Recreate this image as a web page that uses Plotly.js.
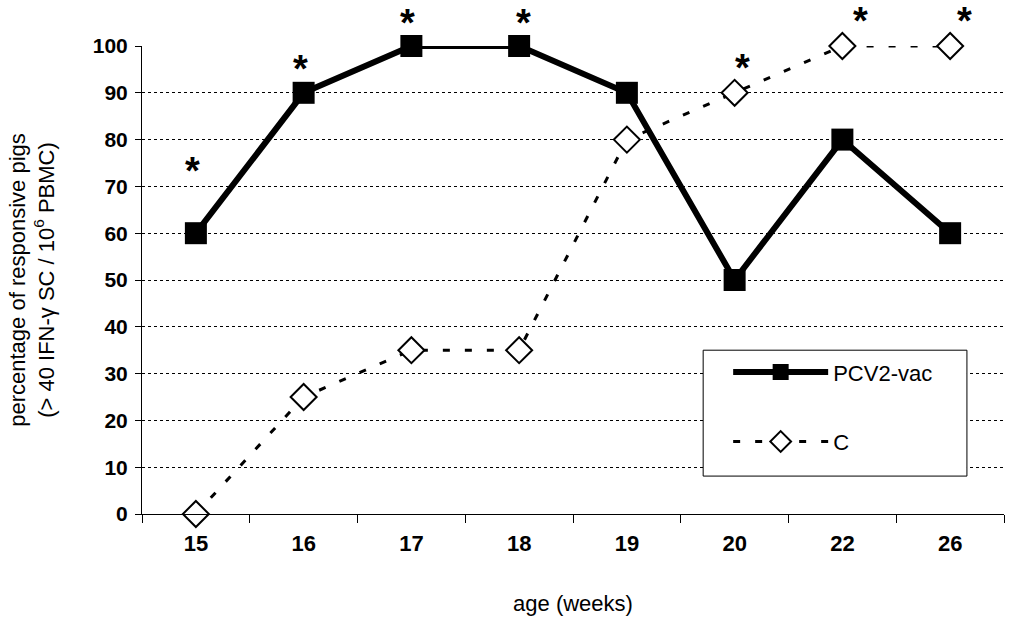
<!DOCTYPE html>
<html>
<head>
<meta charset="utf-8">
<script src="https://cdn.plot.ly/plotly-3.0.1.min.js"></script>
<style>html,body{margin:0;padding:0;background:#fff;}#chart{width:1010px;height:617px;}</style>
</head>
<body>
<div id="chart"></div>
<script>
// Data
const ages = ['15', '16', '17', '18', '19', '20', '22', '26'];
const pcv2vac = [60, 90, 100, 100, 90, 50, 80, 60];
const control = [0, 25, 35, 35, 80, 90, 100, 100];
const seriesNames = ['PCV2-vac', 'C'];
const yTicks = [0, 10, 20, 30, 40, 50, 60, 70, 80, 90, 100];
const yRange = [0, 100];
// significance asterisks: category and height (in y-axis units)
const starCats = ['15', '16', '17', '18', '20', '22', '26'];
const starVals = [74.6, 96.4, 106.2, 106.2, 96.6, 106.6, 106.6];
const starShift = [-3, -3, -4, 4, 8, 18, 14];

const FONT = 'Liberation Sans, Arial, sans-serif';

const traces = [
  {
    x: ages, y: pcv2vac, name: seriesNames[0], type: 'scatter', mode: 'lines+markers',
    legendgroup: 'a',
    line: {color: '#000', width: 6},
    marker: {symbol: 'square', size: 22, color: '#000'},
    cliponaxis: false
  },
  {
    x: ages, y: control, name: seriesNames[1], type: 'scatter', mode: 'lines+markers',
    legendgroup: 'b',
    line: {color: '#000', width: 3, dash: '7px,15px'},
    marker: {symbol: 'diamond', size: 20, color: '#fff', line: {color: '#000', width: 2}},
    cliponaxis: false
  }
];

const annotations = starCats.map((c, i) => ({
  x: ages.indexOf(c), xref: 'x', xanchor: 'center',
  y: (starVals[i] - yRange[0]) / (yRange[1] - yRange[0]), yref: 'y domain', yanchor: 'middle',
  text: '*', showarrow: false,
  xshift: starShift[i], yshift: -6,
  font: {family: FONT, size: 38, color: '#000', weight: 'bold'}
}));

const layout = {
  width: 1010, height: 617,
  margin: {l: 142, r: 6, t: 46, b: 103},
  paper_bgcolor: '#fff', plot_bgcolor: '#fff',
  font: {family: FONT, color: '#000'},
  showlegend: true,
  legend: {
    x: 0.680, y: 0.348, xanchor: 'left', yanchor: 'top',
    bgcolor: 'rgba(0,0,0,0)', borderwidth: 0,
    font: {family: FONT, size: 22, color: '#000'},
    itemwidth: 95, tracegroupgap: 38, traceorder: 'grouped'
  },
  xaxis: {
    type: 'category', categoryorder: 'array', categoryarray: ages,
    range: [-0.5, ages.length - 0.5], autorange: false,
    showline: true, linecolor: '#000', linewidth: 1,
    ticks: 'outside', ticklen: 8, tickcolor: '#000', tickson: 'boundaries',
    ticklabelstandoff: 10,
    showgrid: false, zeroline: false,
    tickfont: {family: FONT, size: 22, color: '#000', weight: 'bold'},
    title: {text: 'age (weeks)', font: {family: FONT, size: 22, color: '#000'}, standoff: 40}
  },
  yaxis: {
    range: yRange, autorange: false, tickvals: yTicks, ticktext: yTicks.map(String),
    showline: true, linecolor: '#000', linewidth: 1,
    ticks: 'outside', ticklen: 6, tickcolor: '#000',
    ticklabelstandoff: 3,
    showgrid: true, gridcolor: '#000', gridwidth: 1, griddash: '3px,3px',
    zeroline: false,
    tickfont: {family: FONT, size: 21, color: '#000', weight: 'bold'},
    title: {text: 'percentage of responsive pigs<br>(> 40 IFN-γ SC / 10<sup>6</sup> PBMC)', font: {family: FONT, size: 22, color: '#000'}, standoff: 32}
  },
  shapes: [{
    type: 'rect', xref: 'paper', yref: 'paper', layer: 'above',
    x0: 0.651, x1: 0.957, y0: 0.081, y1: 0.350,
    fillcolor: '#fff', line: {color: '#000', width: 1}
  }],
  annotations: annotations
};

Plotly.newPlot('chart', traces, layout, {displayModeBar: false, staticPlot: true});
</script>
</body>
</html>
